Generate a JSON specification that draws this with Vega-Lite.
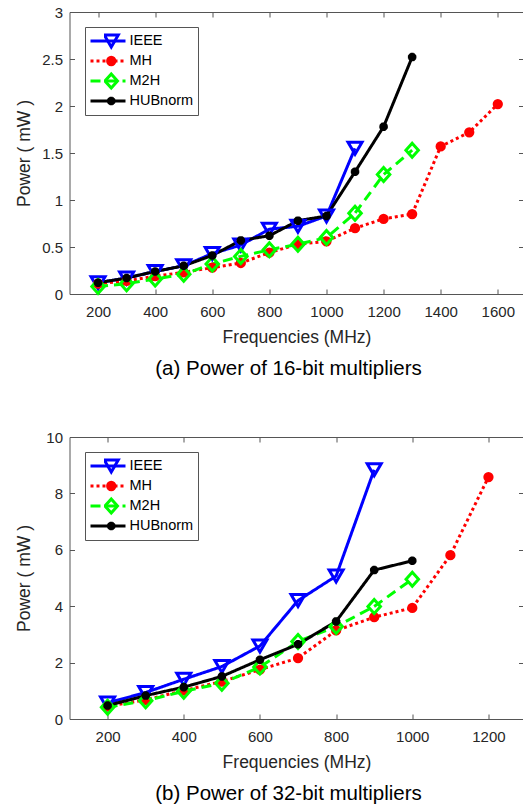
{
  "$schema": "https://vega.github.io/schema/vega-lite/v6.json",
  "padding": {"left": 15.5, "top": 5, "right": 0, "bottom": 0},
  "spacing": 51,
  "config": {
    "font": "Liberation Sans",
    "view": {"stroke": null},
    "axis": {
      "grid": false,
      "domainColor": "#555555",
      "tickColor": "#555555",
      "labelColor": "#262626",
      "titleColor": "#262626",
      "labelFontSize": 15,
      "titleFontSize": 17.5,
      "titleFontWeight": "normal",
      "tickSize": -5,
      "labelOverlap": false,
      "labelFlush": false
    },
    "legend": {"labelFontSize": 14.5, "labelColor": "#000000"},
    "title": {"fontSize": 20.5, "fontWeight": "normal", "color": "#000000"}
  },
  "datasets": {
    "p16": [
      {"series": "IEEE", "freq": 200, "power": 0.12},
      {"series": "IEEE", "freq": 300, "power": 0.17},
      {"series": "IEEE", "freq": 400, "power": 0.24},
      {"series": "IEEE", "freq": 500, "power": 0.30},
      {"series": "IEEE", "freq": 600, "power": 0.43},
      {"series": "IEEE", "freq": 700, "power": 0.52},
      {"series": "IEEE", "freq": 800, "power": 0.69},
      {"series": "IEEE", "freq": 900, "power": 0.72},
      {"series": "IEEE", "freq": 1000, "power": 0.83},
      {"series": "IEEE", "freq": 1100, "power": 1.55},
      {"series": "MH", "freq": 200, "power": 0.11},
      {"series": "MH", "freq": 300, "power": 0.14},
      {"series": "MH", "freq": 400, "power": 0.19},
      {"series": "MH", "freq": 500, "power": 0.23},
      {"series": "MH", "freq": 600, "power": 0.28},
      {"series": "MH", "freq": 700, "power": 0.33},
      {"series": "MH", "freq": 800, "power": 0.44},
      {"series": "MH", "freq": 900, "power": 0.53},
      {"series": "MH", "freq": 1000, "power": 0.56},
      {"series": "MH", "freq": 1100, "power": 0.70},
      {"series": "MH", "freq": 1200, "power": 0.80},
      {"series": "MH", "freq": 1300, "power": 0.85},
      {"series": "MH", "freq": 1400, "power": 1.57},
      {"series": "MH", "freq": 1500, "power": 1.72},
      {"series": "MH", "freq": 1600, "power": 2.02},
      {"series": "M2H", "freq": 200, "power": 0.08},
      {"series": "M2H", "freq": 300, "power": 0.11},
      {"series": "M2H", "freq": 400, "power": 0.16},
      {"series": "M2H", "freq": 500, "power": 0.21},
      {"series": "M2H", "freq": 600, "power": 0.32},
      {"series": "M2H", "freq": 700, "power": 0.40},
      {"series": "M2H", "freq": 800, "power": 0.47},
      {"series": "M2H", "freq": 900, "power": 0.53},
      {"series": "M2H", "freq": 1000, "power": 0.60},
      {"series": "M2H", "freq": 1100, "power": 0.86},
      {"series": "M2H", "freq": 1200, "power": 1.27},
      {"series": "M2H", "freq": 1300, "power": 1.53},
      {"series": "HUBnorm", "freq": 200, "power": 0.12},
      {"series": "HUBnorm", "freq": 300, "power": 0.17},
      {"series": "HUBnorm", "freq": 400, "power": 0.24},
      {"series": "HUBnorm", "freq": 500, "power": 0.30},
      {"series": "HUBnorm", "freq": 600, "power": 0.41},
      {"series": "HUBnorm", "freq": 700, "power": 0.57},
      {"series": "HUBnorm", "freq": 800, "power": 0.62},
      {"series": "HUBnorm", "freq": 900, "power": 0.78},
      {"series": "HUBnorm", "freq": 1000, "power": 0.83},
      {"series": "HUBnorm", "freq": 1100, "power": 1.30},
      {"series": "HUBnorm", "freq": 1200, "power": 1.78},
      {"series": "HUBnorm", "freq": 1300, "power": 2.52}
    ],
    "p32": [
      {"series": "IEEE", "freq": 200, "power": 0.57},
      {"series": "IEEE", "freq": 300, "power": 0.94},
      {"series": "IEEE", "freq": 400, "power": 1.41},
      {"series": "IEEE", "freq": 500, "power": 1.86},
      {"series": "IEEE", "freq": 600, "power": 2.59},
      {"series": "IEEE", "freq": 700, "power": 4.2},
      {"series": "IEEE", "freq": 800, "power": 5.07},
      {"series": "IEEE", "freq": 900, "power": 8.84},
      {"series": "MH", "freq": 200, "power": 0.45},
      {"series": "MH", "freq": 300, "power": 0.68},
      {"series": "MH", "freq": 400, "power": 1.01},
      {"series": "MH", "freq": 500, "power": 1.33},
      {"series": "MH", "freq": 600, "power": 1.75},
      {"series": "MH", "freq": 700, "power": 2.16},
      {"series": "MH", "freq": 800, "power": 3.14},
      {"series": "MH", "freq": 900, "power": 3.61},
      {"series": "MH", "freq": 1000, "power": 3.94},
      {"series": "MH", "freq": 1100, "power": 5.81},
      {"series": "MH", "freq": 1200, "power": 8.58},
      {"series": "M2H", "freq": 200, "power": 0.42},
      {"series": "M2H", "freq": 300, "power": 0.65},
      {"series": "M2H", "freq": 400, "power": 0.98},
      {"series": "M2H", "freq": 500, "power": 1.27},
      {"series": "M2H", "freq": 600, "power": 1.84},
      {"series": "M2H", "freq": 700, "power": 2.75},
      {"series": "M2H", "freq": 800, "power": 3.28},
      {"series": "M2H", "freq": 900, "power": 3.99},
      {"series": "M2H", "freq": 1000, "power": 4.96},
      {"series": "HUBnorm", "freq": 200, "power": 0.48},
      {"series": "HUBnorm", "freq": 300, "power": 0.83},
      {"series": "HUBnorm", "freq": 400, "power": 1.13},
      {"series": "HUBnorm", "freq": 500, "power": 1.51},
      {"series": "HUBnorm", "freq": 600, "power": 2.10},
      {"series": "HUBnorm", "freq": 700, "power": 2.65},
      {"series": "HUBnorm", "freq": 800, "power": 3.46},
      {"series": "HUBnorm", "freq": 900, "power": 5.28},
      {"series": "HUBnorm", "freq": 1000, "power": 5.61}
    ]
  },
  "vconcat": [
    {
      "width": 454,
      "height": 282,
      "data": {"name": "p16"},
      "title": {"text": "(a) Power of 16-bit multipliers", "orient": "bottom", "offset": 13, "dx": -8},
      "resolve": {
        "axis": {"x": "independent", "y": "independent"},
        "legend": {"color": "independent", "strokeDash": "independent", "stroke": "independent", "fill": "independent", "shape": "independent"}
      },
      "layer": [
        {
          "mark": {"type": "line", "strokeWidth": 3},
          "encoding": {
            "x": {"field": "freq", "type": "quantitative",
              "scale": {"domain": [100, 1690], "nice": false, "zero": false},
              "axis": {"values": [200, 400, 600, 800, 1000, 1200, 1400, 1600], "format": "d", "title": "Frequencies (MHz)", "labelPadding": 15, "titlePadding": 9}},
            "y": {"field": "power", "type": "quantitative",
              "scale": {"domain": [0, 3], "nice": false},
              "axis": {"values": [0, 0.5, 1, 1.5, 2, 2.5, 3], "format": "~g", "title": "Power ( mW )", "labelPadding": 12, "titlePadding": 6, "minExtent": 30, "maxExtent": 30}},
            "color": {"field": "series", "type": "nominal",
              "scale": {"domain": ["IEEE", "MH", "M2H", "HUBnorm"], "range": ["#0000ff", "#ff0000", "#00ff00", "#000000"]},
              "legend": {"orient": "none", "legendX": 15.5, "legendY": 15, "title": null, "symbolSize": 1225, "symbolStrokeWidth": 3, "strokeColor": "#555555", "fillColor": "#ffffff", "padding": 4, "rowPadding": 0, "clipHeight": 20, "labelOffset": 2.5}},
            "strokeDash": {"field": "series", "type": "nominal",
              "scale": {"domain": ["IEEE", "MH", "M2H", "HUBnorm"], "range": [[1, 0], [3, 3], [10, 6], [1, 0]]},
              "legend": {"orient": "none", "legendX": 15.5, "legendY": 15, "title": null, "symbolSize": 1225, "symbolStrokeWidth": 3, "strokeColor": "#555555", "fillColor": "#ffffff", "padding": 4, "rowPadding": 0, "clipHeight": 20, "labelOffset": 2.5}}
          }
        },
        {
          "mark": {"type": "point", "filled": false, "strokeWidth": 3, "size": 100, "opacity": 1},
          "encoding": {
            "x": {"field": "freq", "type": "quantitative",
              "axis": {"orient": "top", "values": [200, 400, 600, 800, 1000, 1200, 1400, 1600], "labels": false, "title": null}},
            "y": {"field": "power", "type": "quantitative",
              "axis": {"orient": "right", "values": [0, 0.5, 1, 1.5, 2, 2.5, 3], "labels": false, "title": null}},
            "stroke": {"field": "series", "type": "nominal",
              "scale": {"domain": ["IEEE", "MH", "M2H", "HUBnorm"], "range": ["#0000ff", "#ff0000", "#00ff00", "#000000"]},
              "legend": {"orient": "none", "legendX": 30.5, "legendY": 15, "title": null, "symbolSize": 100, "symbolStrokeWidth": 3, "padding": 4, "rowPadding": 0, "clipHeight": 20, "labelExpr": "''"}},
            "fill": {"field": "series", "type": "nominal",
              "scale": {"domain": ["IEEE", "MH", "M2H", "HUBnorm"], "range": ["transparent", "#ff0000", "transparent", "transparent"]},
              "legend": {"orient": "none", "legendX": 30.5, "legendY": 15, "title": null, "symbolSize": 100, "symbolStrokeWidth": 3, "padding": 4, "rowPadding": 0, "clipHeight": 20, "labelExpr": "''"}},
            "shape": {"field": "series", "type": "nominal",
              "scale": {"domain": ["IEEE", "MH", "M2H", "HUBnorm"], "range": [
                "M0,1.2L-1.4,-1.2L1.4,-1.2Z",
                "M-0.73,0A0.73,0.73 0 1,0 0.73,0A0.73,0.73 0 1,0 -0.73,0Z",
                "M0,-1.4L1.25,0L0,1.4L-1.25,0Z",
                "M-0.85,0H0.85M0,-0.85V0.85M-0.6,-0.6L0.6,0.6M-0.6,0.6L0.6,-0.6"]},
              "legend": {"orient": "none", "legendX": 30.5, "legendY": 15, "title": null, "symbolSize": 100, "symbolStrokeWidth": 3, "padding": 4, "rowPadding": 0, "clipHeight": 20, "labelExpr": "''"}}
          }
        }
      ]
    },
    {
      "width": 454,
      "height": 282,
      "data": {"name": "p32"},
      "title": {"text": "(b) Power of 32-bit multipliers", "orient": "bottom", "offset": 13, "dx": -8},
      "resolve": {
        "axis": {"x": "independent", "y": "independent"},
        "legend": {"color": "independent", "strokeDash": "independent", "stroke": "independent", "fill": "independent", "shape": "independent"}
      },
      "layer": [
        {
          "mark": {"type": "line", "strokeWidth": 3},
          "encoding": {
            "x": {"field": "freq", "type": "quantitative",
              "scale": {"domain": [100, 1292], "nice": false, "zero": false},
              "axis": {"values": [200, 400, 600, 800, 1000, 1200], "format": "d", "title": "Frequencies (MHz)", "labelPadding": 15, "titlePadding": 9}},
            "y": {"field": "power", "type": "quantitative",
              "scale": {"domain": [0, 10], "nice": false},
              "axis": {"values": [0, 2, 4, 6, 8, 10], "format": "d", "title": "Power ( mW )", "labelPadding": 12, "titlePadding": 6, "minExtent": 30, "maxExtent": 30}},
            "color": {"field": "series", "type": "nominal",
              "scale": {"domain": ["IEEE", "MH", "M2H", "HUBnorm"], "range": ["#0000ff", "#ff0000", "#00ff00", "#000000"]},
              "legend": {"orient": "none", "legendX": 15.5, "legendY": 15, "title": null, "symbolSize": 1225, "symbolStrokeWidth": 3, "strokeColor": "#555555", "fillColor": "#ffffff", "padding": 4, "rowPadding": 0, "clipHeight": 20, "labelOffset": 2.5}},
            "strokeDash": {"field": "series", "type": "nominal",
              "scale": {"domain": ["IEEE", "MH", "M2H", "HUBnorm"], "range": [[1, 0], [3, 3], [10, 6], [1, 0]]},
              "legend": {"orient": "none", "legendX": 15.5, "legendY": 15, "title": null, "symbolSize": 1225, "symbolStrokeWidth": 3, "strokeColor": "#555555", "fillColor": "#ffffff", "padding": 4, "rowPadding": 0, "clipHeight": 20, "labelOffset": 2.5}}
          }
        },
        {
          "mark": {"type": "point", "filled": false, "strokeWidth": 3, "size": 100, "opacity": 1},
          "encoding": {
            "x": {"field": "freq", "type": "quantitative",
              "axis": {"orient": "top", "values": [200, 400, 600, 800, 1000, 1200], "labels": false, "title": null}},
            "y": {"field": "power", "type": "quantitative",
              "axis": {"orient": "right", "values": [0, 2, 4, 6, 8, 10], "labels": false, "title": null}},
            "stroke": {"field": "series", "type": "nominal",
              "scale": {"domain": ["IEEE", "MH", "M2H", "HUBnorm"], "range": ["#0000ff", "#ff0000", "#00ff00", "#000000"]},
              "legend": {"orient": "none", "legendX": 30.5, "legendY": 15, "title": null, "symbolSize": 100, "symbolStrokeWidth": 3, "padding": 4, "rowPadding": 0, "clipHeight": 20, "labelExpr": "''"}},
            "fill": {"field": "series", "type": "nominal",
              "scale": {"domain": ["IEEE", "MH", "M2H", "HUBnorm"], "range": ["transparent", "#ff0000", "transparent", "transparent"]},
              "legend": {"orient": "none", "legendX": 30.5, "legendY": 15, "title": null, "symbolSize": 100, "symbolStrokeWidth": 3, "padding": 4, "rowPadding": 0, "clipHeight": 20, "labelExpr": "''"}},
            "shape": {"field": "series", "type": "nominal",
              "scale": {"domain": ["IEEE", "MH", "M2H", "HUBnorm"], "range": [
                "M0,1.2L-1.4,-1.2L1.4,-1.2Z",
                "M-0.73,0A0.73,0.73 0 1,0 0.73,0A0.73,0.73 0 1,0 -0.73,0Z",
                "M0,-1.4L1.25,0L0,1.4L-1.25,0Z",
                "M-0.85,0H0.85M0,-0.85V0.85M-0.6,-0.6L0.6,0.6M-0.6,0.6L0.6,-0.6"]},
              "legend": {"orient": "none", "legendX": 30.5, "legendY": 15, "title": null, "symbolSize": 100, "symbolStrokeWidth": 3, "padding": 4, "rowPadding": 0, "clipHeight": 20, "labelExpr": "''"}}
          }
        }
      ]
    }
  ]
}
